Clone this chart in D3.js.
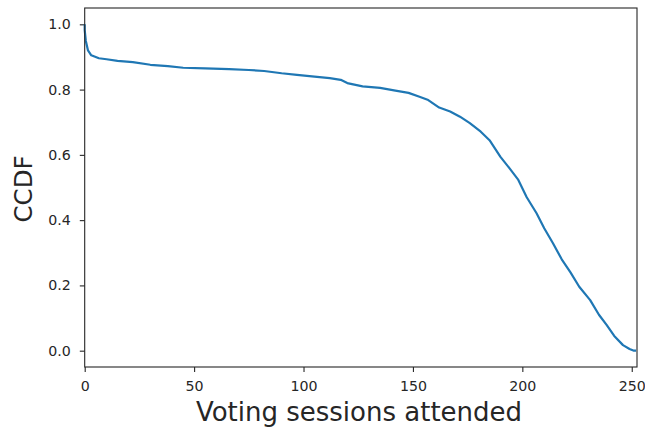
<!DOCTYPE html>
<html>
<head>
<meta charset="utf-8">
<script src="https://cdn.jsdelivr.net/npm/d3@7"></script>
<style>
  html, body { margin: 0; padding: 0; background: #fff; }
  svg { display: block; }
  text { font-family: "DejaVu Sans", sans-serif; fill: #262626; }
</style>
</head>
<body>
<svg id="chart" width="645" height="430"></svg>
<script>
// Complementary CDF of the number of voting sessions attended
const sessions = [0, 0, 0.5, 1.5, 3, 6.5, 10, 15, 22, 30, 38, 45, 55, 66, 75, 82, 90, 97,
  105, 112, 117, 120, 127, 135, 142, 148, 153, 157, 162, 167, 171.5, 176, 181, 185,
  190, 194, 198, 202, 206.5, 210, 214, 218, 222, 226, 231, 235, 238.5, 242, 246, 249, 251, 252];
const ccdf = [1.0, 0.982, 0.95, 0.92, 0.905, 0.896, 0.893, 0.888, 0.884, 0.876, 0.872, 0.867,
  0.865, 0.863, 0.860, 0.857, 0.850, 0.845, 0.840, 0.835, 0.830, 0.820, 0.810, 0.805, 0.797,
  0.790, 0.778, 0.768, 0.745, 0.733, 0.717, 0.697, 0.671, 0.645, 0.594, 0.560, 0.525, 0.470,
  0.421, 0.375, 0.329, 0.280, 0.240, 0.196, 0.155, 0.110, 0.079, 0.045, 0.017, 0.005, 0.0, 0.0];
const xTicks = [0, 50, 100, 150, 200, 250];
const yTicks = [0.0, 0.2, 0.4, 0.6, 0.8, 1.0];

const svg = d3.select("#chart");
const plot = { left: 84.7, right: 637, top: 8, bottom: 367 };

const x = d3.scaleLinear().domain([0, 252.4]).range([plot.left, plot.right]);
const y = d3.scaleLinear().domain([-0.05, 1.05]).range([plot.bottom, plot.top]);

const xAxis = svg.append("g")
  .attr("transform", `translate(0,${plot.bottom})`)
  .call(d3.axisBottom(x).tickValues(xTicks).tickFormat(d3.format("d")).tickSize(4.9).tickPadding(9));
const yAxis = svg.append("g")
  .attr("transform", `translate(${plot.left},0)`)
  .call(d3.axisLeft(y).tickValues(yTicks).tickFormat(d3.format(".1f")).tickSize(4.9).tickPadding(9));

[xAxis, yAxis].forEach(g => {
  g.select(".domain").remove();
  g.selectAll(".tick line").attr("stroke", "#262626").attr("stroke-width", 1.1);
  g.selectAll(".tick text").attr("font-size", 14.2).attr("fill", "#262626")
    .attr("font-family", "'DejaVu Sans', sans-serif");
});

// data line
const line = d3.line().x((d, i) => x(sessions[i])).y(d => y(d));
svg.append("path")
  .datum(ccdf)
  .attr("d", line)
  .attr("fill", "none")
  .attr("stroke", "#1f77b4")
  .attr("stroke-width", 2.2)
  .attr("stroke-linejoin", "round");

// axes frame
svg.append("rect")
  .attr("x", plot.left).attr("y", plot.top)
  .attr("width", plot.right - plot.left).attr("height", plot.bottom - plot.top)
  .attr("fill", "none").attr("stroke", "#262626").attr("stroke-width", 1.1);

svg.append("text")
  .attr("x", 359).attr("y", 421)
  .attr("text-anchor", "middle").attr("font-size", 26)
  .text("Voting sessions attended");

svg.append("text")
  .attr("transform", "translate(32,189) rotate(-90)")
  .attr("text-anchor", "middle").attr("font-size", 24.5)
  .text("CCDF");
</script>
</body>
</html>
